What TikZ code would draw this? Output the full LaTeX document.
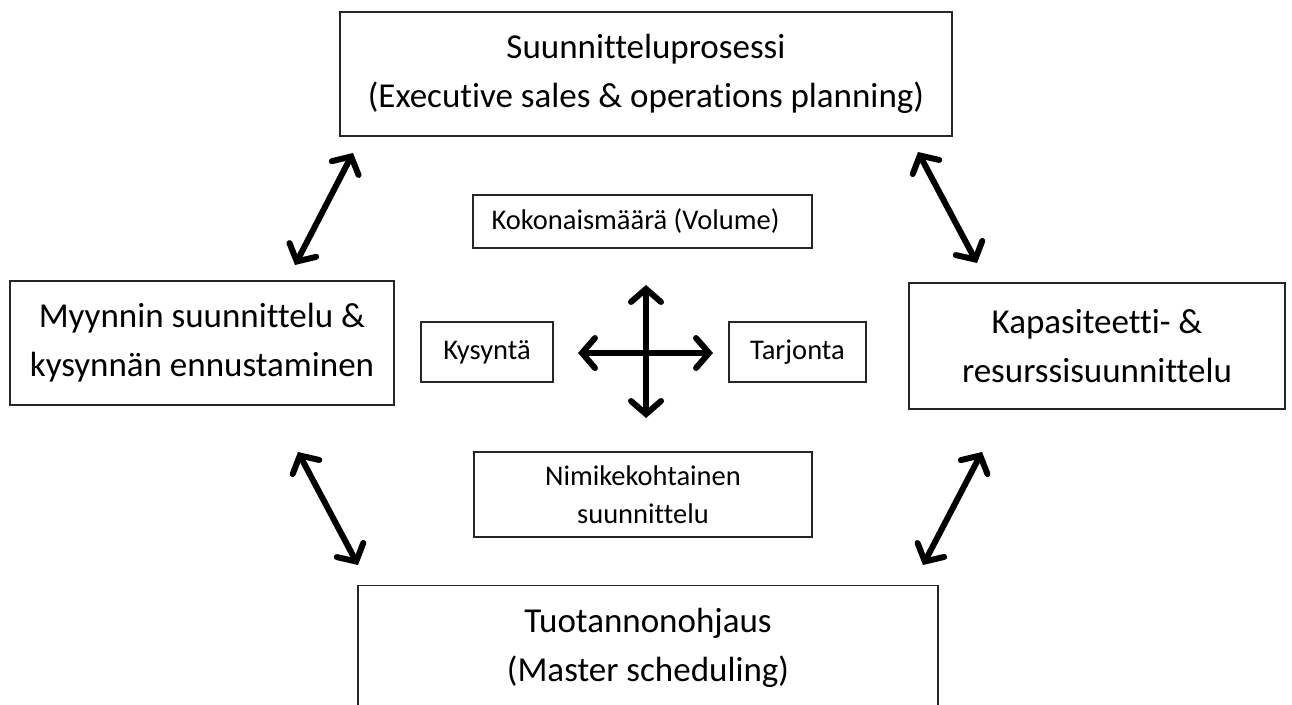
\documentclass[tikz,border=0pt]{standalone}
\usepackage{fontspec}
\setmainfont{Carlito}[Ligatures=NoCommon]
\usepackage{tikz}
\usetikzlibrary{arrows.meta, positioning, calc}

\begin{document}
\begin{tikzpicture}[
    x=1pt, y=-1pt,
    bigbox/.style={rectangle, draw=black!85, line width=1.3pt, align=center, font=\fontsize{35}{49}\selectfont, inner sep=0pt},
    smallbox/.style={rectangle, draw=black!85, line width=1.3pt, align=center, font=\fontsize{28.5}{38}\selectfont, inner sep=0pt},
    twoway/.style={{Straight Barb[length=13pt, width=30pt, line cap=round]}-{Straight Barb[length=13pt, width=30pt, line cap=round]}, line width=6pt, line cap=round}
]
\clip (0,0) rectangle (1292,704);

% Main planning levels
\node[bigbox, minimum width=612, minimum height=124] (plan) at (646,74) {Suunnitteluprosessi\\(Executive sales \& operations planning)};
\node[bigbox, minimum width=384, minimum height=124] (sales) at (202,343) {Myynnin suunnittelu \&\\kysynnän ennustaminen};
\node[bigbox, minimum width=376, minimum height=126] (capacity) at (1097,346) {Kapasiteetti- \&\\resurssisuunnittelu};
\node[bigbox, minimum width=580, minimum height=124, anchor=north] (master) at (648,585) {Tuotannonohjaus\\(Master scheduling)};

% Centre labels
\node[smallbox, minimum width=339, minimum height=53] (volume) at (642.5,221.5) {Kokonaismäärä (Volume)\hspace{14pt}};
\node[smallbox, minimum width=132, minimum height=60] (demand) at (487,352) {Kysyntä};
\node[smallbox, minimum width=137, minimum height=60] (supply) at (797.5,352) {Tarjonta};
\node[smallbox, minimum width=338, minimum height=85] (item) at (643,494.5) {Nimikekohtainen\\suunnittelu};

% Arrow end points
\coordinate (ul-a) at (295,265);
\coordinate (ul-b) at (353,153);
\coordinate (ur-a) at (918,152);
\coordinate (ur-b) at (977,263);
\coordinate (ll-a) at (298,452);
\coordinate (ll-b) at (358,565);
\coordinate (lr-a) at (982,452);
\coordinate (lr-b) at (923,565);
\coordinate (cross-w) at (578,353);
\coordinate (cross-e) at (713,353);
\coordinate (cross-n) at (646,285);
\coordinate (cross-s) at (646,418);

% Arrows
\draw[twoway] (ul-a) -- (ul-b);
\draw[twoway] (ur-a) -- (ur-b);
\draw[twoway] (ll-a) -- (ll-b);
\draw[twoway] (lr-a) -- (lr-b);
\draw[twoway] (cross-w) -- (cross-e);
\draw[twoway] (cross-n) -- (cross-s);
\end{tikzpicture}
\end{document}
